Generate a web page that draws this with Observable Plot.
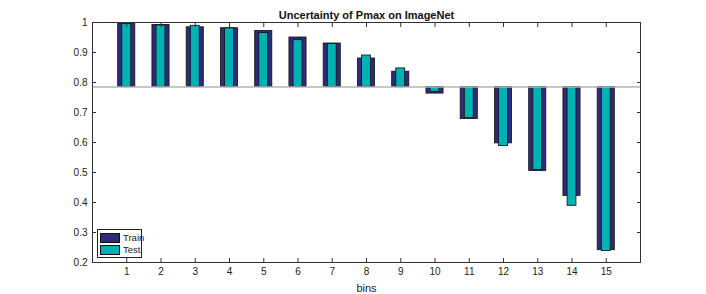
<!DOCTYPE html>
<html>
<head>
<meta charset="utf-8">
<script src="https://cdn.jsdelivr.net/npm/d3@7"></script>
<script src="https://cdn.jsdelivr.net/npm/@observablehq/plot@0.6"></script>
<style>
  body { margin: 0; background: #fff; font-family: "Liberation Sans", Arial, sans-serif; }
  #wrap { position: relative; width: 706px; height: 294px; }
  #legend { position: absolute; left: 97px; top: 229px; width: 43px; height: 27px;
    border: 1px solid #222; background: #fff; font-size: 9.5px; color: #222; }
  .row { position: absolute; left: 2px; display: flex; align-items: center; line-height: 10px; }
  .sw { width: 18px; height: 8px; border: 1px solid #111; margin-right: 3px; }
</style>
</head>
<body>
<div id="wrap"></div>
<script>
const bins = [1,2,3,4,5,6,7,8,9,10,11,12,13,14,15];
const train = [0.997,0.992,0.984,0.981,0.972,0.950,0.930,0.880,0.836,0.763,0.678,0.597,0.505,0.422,0.241];
const test  = [0.995,0.990,0.989,0.980,0.965,0.941,0.928,0.890,0.847,0.769,0.681,0.588,0.508,0.389,0.238];
const baseline = 0.785;
const yTicks = [0.2,0.3,0.4,0.5,0.6,0.7,0.8,0.9,1];
const seriesNames = ["Train","Test"];
const colors = {Train: "#2f2b7a", Test: "#00b2b2"};
const widths = {Train: 0.5, Test: 0.26};

const rows = [];
bins.forEach((b,i) => {
  rows.push({bin: b, series: "Train", value: train[i]});
  rows.push({bin: b, series: "Test", value: test[i]});
});

const axisColor = "#333";
const chart = Plot.plot({
  width: 706, height: 294,
  marginLeft: 92, marginRight: 66, marginTop: 22, marginBottom: 32,
  style: {fontFamily: "Liberation Sans, Arial, sans-serif", fontSize: "10px", color: "#222", background: "#fff"},
  x: {domain: [0,16], ticks: bins, label: null},
  y: {domain: [0.2,1], ticks: yTicks, label: null},
  marks: [
    Plot.rect(rows, {
      x1: d => d.bin - widths[d.series]/2,
      x2: d => d.bin + widths[d.series]/2,
      y1: baseline, y2: "value",
      fill: d => colors[d.series],
      stroke: "#111", strokeWidth: 0.8
    }),
    Plot.ruleY([baseline], {stroke: "#b4b4b4", strokeWidth: 1.5}),
    Plot.frame({stroke: axisColor}),
    Plot.axisX(bins, {anchor: "bottom", tickSize: -4, tickPadding: 9, stroke: axisColor, fill: "#222", fontSize: 10}),
    Plot.axisX(bins, {anchor: "top", tickSize: -4, text: null, stroke: axisColor}),
    Plot.axisY(yTicks, {anchor: "left", tickSize: -4, tickPadding: 9, stroke: axisColor, fill: "#222", fontSize: 10, tickFormat: d3.format(".1~f")}),
    Plot.axisY(yTicks, {anchor: "right", tickSize: -4, text: null, stroke: axisColor}),
    Plot.text(["Uncertainty of Pmax on ImageNet"], {frameAnchor: "top", dy: -11, fontWeight: "bold", fontSize: 11, fill: "#111"}),
    Plot.text(["bins"], {frameAnchor: "bottom", dy: 29, fontSize: 11, fill: "#222"})
  ]
});
document.getElementById("wrap").appendChild(chart);

const leg = document.createElement("div");
leg.id = "legend";
seriesNames.forEach((s, i) => {
  const r = document.createElement("div");
  r.className = "row";
  r.style.top = (3 + i * 12) + "px";
  const sw = document.createElement("div");
  sw.className = "sw";
  sw.style.background = colors[s];
  r.appendChild(sw);
  const t = document.createElement("span");
  t.textContent = s;
  r.appendChild(t);
  leg.appendChild(r);
});
document.getElementById("wrap").appendChild(leg);
</script>
</body>
</html>
